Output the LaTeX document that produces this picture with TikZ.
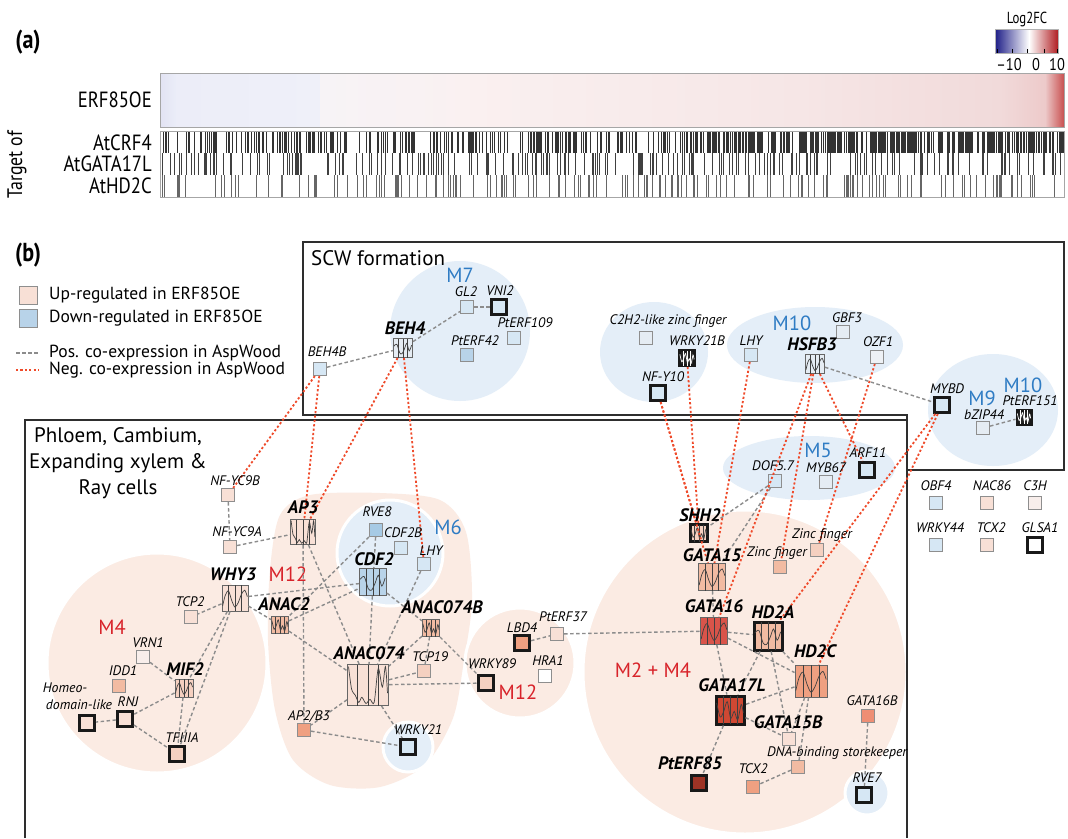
\documentclass[tikz,border=0pt]{standalone}
\usepackage{fontspec}
\setmainfont{PT Sans}
\usetikzlibrary{calc}
\definecolor{blobP}{HTML}{FBEBE3}
\definecolor{blobB}{HTML}{E4EEF8}
\definecolor{modB}{HTML}{2F7CC4}
\definecolor{modR}{HTML}{D8232A}
\definecolor{posc}{HTML}{8C8C8C}
\definecolor{negc}{HTML}{EF4A2A}
\definecolor{framec}{HTML}{2E2E2E}
\definecolor{nbord}{HTML}{8E8E8E}
\definecolor{b1}{HTML}{D6E7F4}
\definecolor{b2}{HTML}{B8D3E9}
\definecolor{b3}{HTML}{A6CAE5}
\definecolor{g1}{HTML}{E5ECF3}
\definecolor{g2}{HTML}{EEF1F5}
\definecolor{p0}{HTML}{F8EEEB}
\definecolor{p1}{HTML}{F8E0D6}
\definecolor{p2}{HTML}{F5D0C0}
\definecolor{p3}{HTML}{F2BBA2}
\definecolor{p4}{HTML}{EFA081}
\definecolor{p5}{HTML}{EE8E74}
\definecolor{r1}{HTML}{D9544A}
\definecolor{r2}{HTML}{CF4833}
\definecolor{r3}{HTML}{9E3325}
\newcommand\curveA{\draw[chcurve] plot[smooth] coordinates {(-0.95,0.6) (-0.75,-0.2) (-0.5,-0.55) (-0.25,0.2) (0,0.7) (0.25,0.35) (0.5,-0.3) (0.75,-0.6) (0.95,-0.1)};}
\newcommand\curveB{\draw[chcurve] plot[smooth] coordinates {(-0.95,-0.5) (-0.7,0.5) (-0.45,0.1) (-0.2,-0.6) (0.05,0.6) (0.3,0.1) (0.55,0.7) (0.8,-0.4) (0.95,0.2)};}
\newcommand\curveC{\draw[chcurve] plot[smooth] coordinates {(-0.95,-0.2) (-0.65,-0.4) (-0.35,0.5) (-0.1,0.6) (0.15,0.1) (0.4,-0.5) (0.65,0.3) (0.9,-0.3)};}
\newcommand\curveD{\draw[chcurve] plot[smooth] coordinates {(-0.95,-0.9) (-0.8,0.2) (-0.62,0.5) (-0.45,0.85) (-0.3,0.6) (-0.1,0.9) (0.1,0.7) (0.3,0.85) (0.5,-0.8) (0.7,0.1) (0.85,-0.9) (0.95,0.4)};}
\newcommand{\chartnode}[7]{%
  \node[#5,minimum size=#4pt] (#1) at (#2,#3) {};
  \begin{scope}[shift={(#2,#3)},scale=#4/2,chcurve/.style={draw=#7,line width=0.7pt},chgrid/.style={draw=#7,line width=0.8pt}]
    \clip (-1,-1) rectangle (1,1);
    \foreach \f in {-0.5,0,0.5} \draw[chgrid] (\f,-1) -- (\f,1);
    #6
  \end{scope}}
\begin{document}
\begin{tikzpicture}[x=1pt,y=-1pt,
  sn/.style={rectangle,draw=nbord,line width=1.1pt,minimum size=13pt,inner sep=0pt},
  tn/.style={rectangle,draw=black!90,line width=3pt,minimum size=15pt,inner sep=0pt},
  chartbox/.style={rectangle,draw=black!60,line width=1pt,inner sep=0pt},
  chartthick/.style={rectangle,draw=black!90,line width=3pt,inner sep=0pt},
  lab/.style={font=\fontsize{13.8}{14}\selectfont\itshape,inner sep=0pt},
  blab/.style={font=\fontsize{18}{19}\selectfont\bfseries\itshape,inner sep=0pt},
  modb/.style={font=\fontsize{20.5}{21}\selectfont,text=modB,inner sep=0pt},
  modr/.style={font=\fontsize{20.5}{21}\selectfont,text=modR,inner sep=0pt},
  legt/.style={anchor=west,inner sep=0pt,font=\fontsize{17.5}{18}\selectfont},
  rowt/.style={anchor=east,inner sep=0pt,font=\fontsize{22}{23}\selectfont},
  posedge/.style={draw=posc,line width=1.4pt,dash pattern=on 3.5pt off 2.5pt},
  negedge/.style={draw=negc,line width=1.8pt,dash pattern=on 2.2pt off 2.2pt},
  frm/.style={draw=framec,line width=1.6pt},
  whitering/.style={draw=white,line width=3pt}]
\useasboundingbox (0,0) rectangle (1068,838);
\fill[white] (0,0) rectangle (1068,838);

% ---------------- panel (a)
\node[inner sep=0pt,font=\fontsize{26}{28}\selectfont\bfseries] (pa) at (28,42) {\scalebox{0.85}[1]{(a)}};
\shade[left color={rgb,255:red,226;green,227;blue,243},right color={rgb,255:red,235;green,237;blue,248}] (160,73) rectangle (176,127);
\shade[left color={rgb,255:red,236;green,237;blue,248},right color={rgb,255:red,239;green,240;blue,249}] (176,73) rectangle (320,127);
\shade[left color={rgb,255:red,247;green,243;blue,246},right color={rgb,255:red,250;green,241;blue,241}] (320,73) rectangle (470,127);
\shade[left color={rgb,255:red,250;green,240;blue,240},right color={rgb,255:red,246;green,230;blue,230}] (470,73) rectangle (800,127);
\shade[left color={rgb,255:red,246;green,230;blue,230},right color={rgb,255:red,241;green,218;blue,218}] (800,73) rectangle (1000,127);
\shade[left color={rgb,255:red,241;green,218;blue,218},right color={rgb,255:red,237;green,202;blue,202}] (1000,73) rectangle (1045,127);
\shade[left color={rgb,255:red,237;green,202;blue,202},right color={rgb,255:red,200;green,80;blue,80}] (1045,73) rectangle (1064,127);
\draw[gray!70,line width=1pt] (160,73) rectangle (1064,127);
\pgfmathsetseed{7}
\foreach \i in {1,...,380}{\pgfmathsetmacro\xx{160+904*rnd}\pgfmathsetmacro\ww{0.3+0.9*rnd}\draw[line width=\ww pt,black!80] (\xx,132)--(\xx,153);}
\foreach \i in {1,...,260}{\pgfmathsetmacro\xx{690+374*rnd}\pgfmathsetmacro\ww{0.3+0.9*rnd}\draw[line width=\ww pt,black!80] (\xx,132)--(\xx,153);}
\foreach \i in {1,...,230}{\pgfmathsetmacro\xx{160+904*rnd}\pgfmathsetmacro\ww{0.3+0.8*rnd}\draw[line width=\ww pt,black!75] (\xx,153)--(\xx,175);}
\foreach \i in {1,...,170}{\pgfmathsetmacro\xx{160+904*rnd}\pgfmathsetmacro\ww{0.3+0.7*rnd}\draw[line width=\ww pt,black!60] (\xx,175)--(\xx,197);}
\draw[gray!70,line width=1pt] (160,131) rectangle (1064,197);
\node[rowt] (tERF) at (152,100) {\scalebox{0.85}[1]{ERF85OE}};
\node[rowt] (tCRF) at (152,143) {\scalebox{0.85}[1]{AtCRF4}};
\node[rowt] (tGATA) at (152,164) {\scalebox{0.85}[1]{AtGATA17L}};
\node[rowt] (tHD) at (152,186) {\scalebox{0.85}[1]{AtHD2C}};
\node[rotate=90,inner sep=0pt,font=\fontsize{21}{22}\selectfont] (tTarget) at (17,165) {\scalebox{0.85}[1]{Target of}};
% colour bar
\shade[left color={rgb,255:red,30;green,30;blue,135},right color=white] (995,29) rectangle (1029,53);
\shade[left color=white,right color={rgb,255:red,176;green,30;blue,34}] (1029,29) rectangle (1058,53);
\draw[gray!60,line width=0.6pt] (995,29) rectangle (1058,53);
\foreach \t in {997,1012,1027,1044,1057} \draw[black,line width=0.8pt] (\t,53)--(\t,49);
\node[inner sep=0pt,font=\fontsize{16}{17}\selectfont] (tLog) at (1027,19) {\scalebox{0.8}[1]{Log2FC}};
\node[inner sep=0pt,font=\fontsize{17}{18}\selectfont] (tm10) at (1009,65) {\scalebox{0.85}[1]{–10}};
\node[inner sep=0pt,font=\fontsize{17}{18}\selectfont] (t0) at (1036,65) {\scalebox{0.85}[1]{0}};
\node[inner sep=0pt,font=\fontsize{17}{18}\selectfont] (t10) at (1057,65) {\scalebox{0.85}[1]{10}};

% ---------------- panel (b): blobs
\fill[blobB] (460,331) circle (70);
\fill[blobB] (654,352) ellipse (54 and 50);
\fill[blobB] (815,345) ellipse (88 and 38);
\fill[blobB] (993,410) ellipse (65 and 56);
\fill[blobB] (809,468) ellipse (86 and 32);
\fill[blobP] plot[smooth cycle] coordinates {(280,515) (310,495) (380,493) (440,500) (466,532) (472,600) (464,660) (453,718) (425,765) (380,787) (330,785) (293,760) (275,710) (268,640) (270,570)};
\filldraw[fill=blobP,whitering] (157,663) circle (110);
\filldraw[fill=blobB,whitering] (390,553) circle (53);
\filldraw[fill=blobB,whitering] (408,747) circle (25);
\filldraw[fill=blobP,whitering] (520,663) circle (55);
\filldraw[fill=blobP,whitering] (745,672) circle (162);
\filldraw[fill=blobB,whitering] (867,793) circle (22);

% frames
\draw[frm] (303,242) -- (1064,242) -- (1064,470) -- (907,470) -- (907,415) -- (303,415) -- cycle;
\draw[frm] (25,838) -- (25,420) -- (907,420) -- (907,838);

% titles and legend
\node[inner sep=0pt,font=\fontsize{26}{28}\selectfont\bfseries] (pb) at (28,255) {\scalebox{0.85}[1]{(b)}};
\node[rectangle,draw=nbord,line width=1pt,fill=p1,minimum size=18pt] (legUp) at (28,295) {};
\node[rectangle,draw=nbord,line width=1pt,fill=b2,minimum size=18pt] (legDown) at (28,318) {};
\coordinate (lp1) at (16,353); \coordinate (lp2) at (39,353);
\coordinate (ln1) at (16,370); \coordinate (ln2) at (39,370);
\draw[posedge] (lp1) -- (lp2);
\draw[negedge] (ln1) -- (ln2);
\node[legt] (legUpT) at (49,295) {Up-regulated in ERF85OE};
\node[legt] (legDownT) at (49,318) {Down-regulated in ERF85OE};
\node[legt] (legPosT) at (49,353) {Pos. co-expression in AspWood};
\node[legt] (legNegT) at (49,370) {Neg. co-expression in AspWood};
\node[anchor=west,inner sep=0pt,font=\fontsize{21}{22}\selectfont] (tSCW) at (311,258) {SCW formation};
\node[align=center,inner sep=0pt,font=\fontsize{21}{26}\selectfont] (tPhl) at (118,463) {Phloem, Cambium,\\Expanding xylem \&\\Ray cells};

% module labels
\node[modb] (mM7) at (460,275) {M7};
\node[modb] (mM10a) at (792,323) {M10};
\node[modb] (mM9) at (982,398) {M9};
\node[modb] (mM10b) at (1023,385) {M10};
\node[modb] (mM5) at (818,450) {M5};
\node[modb] (mM6) at (448,527) {M6};
\node[modr] (mM12a) at (288,574) {M12};
\node[modr] (mM4) at (112,627) {M4};
\node[modr] (mM12b) at (518,692) {M12};
\node[modr] (mM24) at (653,670) {M2 + M4};

% ---------------- nodes
% SCW
\node[sn,fill=b1] (nGL2) at (467,307) {};
\node[tn,fill=b1] (nVNI2) at (499,307) {};
\node[sn,fill=b1] (nPtERF109) at (514,338) {};
\node[sn,fill=b2] (nPtERF42) at (467,355) {};
\node[sn,fill=b1] (nBEH4B) at (320,369) {};
\chartnode{nBEH4}{403}{348}{19}{chartbox,fill=g1}{\curveC}{black!75}
\node[sn,fill=g1] (nC2H2) at (646,338) {};
\chartnode{nWRKY21B}{687}{358}{15}{chartthick,fill=black!85}{\curveB}{white}
\node[tn,fill=b1] (nNFY10) at (658,393) {};
\node[sn,fill=b1] (nLHYa) at (751,355) {};
\chartnode{nHSFB3}{815}{364}{19}{chartbox,fill=g1}{\curveA}{black!75}
\node[sn,fill=g1] (nGBF3) at (843,332) {};
\node[sn,fill=g2] (nOZF1) at (877,357) {};
\node[tn,fill=b1] (nMYBD) at (942,405) {};
\node[sn,fill=g1] (nbZIP44) at (983,428) {};
\chartnode{nPtERF151}{1024}{417}{14}{chartthick,fill=black!85}{\curveB}{white}
\node[sn,fill=b1] (nDOF) at (775,481) {};
\node[sn,fill=g1] (nMYB67) at (826,482) {};
\node[tn,fill=b1] (nARF11) at (867,470) {};
% isolated
\node[sn,fill=b1] (nOBF4) at (936,503) {};
\node[sn,fill=p1] (nNAC86) at (987,503) {};
\node[sn,fill=p0] (nC3H) at (1035,503) {};
\node[sn,fill=b1] (nWRKY44) at (936,545) {};
\node[sn,fill=p1] (nTCX2b) at (987,545) {};
\node[tn,fill=white] (nGLSA1) at (1035,545) {};
% left
\node[sn,fill=p1] (nNFYC9B) at (228,495) {};
\node[sn,fill=p1] (nNFYC9A) at (230,547) {};
\chartnode{nAP3}{303}{532}{25}{chartbox,fill=p1}{\curveD}{black!75}
\node[sn,fill=b3] (nRVE8) at (376,530) {};
\node[sn,fill=b1] (nCDF2B) at (401,548) {};
\node[sn,fill=b1] (nLHYb) at (424,564) {};
\chartnode{nCDF2}{373}{582}{27}{chartbox,fill=b2}{\curveC}{black!75}
\chartnode{nWHY3}{235}{598}{26}{chartbox,fill=p1}{\curveA}{black!75}
\node[sn,fill=p1] (nTCP2) at (191,617) {};
\chartnode{nANAC2}{280}{625}{17}{chartbox,fill=p3}{\curveB}{black!75}
\chartnode{nANAC074B}{431}{628}{17}{chartbox,fill=p3}{\curveB}{black!75}
\chartnode{nANAC074}{368}{685}{41}{chartbox,fill=p1}{\curveD}{black!75}
\node[sn,fill=p2] (nTCP19) at (424,671) {};
\node[tn,fill=p2] (nWRKY89) at (486,683) {};
\node[tn,fill=p4] (nLBD4) at (522,643) {};
\node[sn,fill=white] (nHRA1) at (545,676) {};
\node[sn,fill=p1] (nPtERF37) at (557,634) {};
\node[sn,fill=p4] (nAP2B3) at (304,730) {};
\node[tn,fill=b1] (nWRKY21) at (408,747) {};
\node[sn,fill=p0] (nVRN1) at (143,657) {};
\node[sn,fill=p3] (nIDD1) at (119,686) {};
\chartnode{nMIF2}{184}{688}{18}{chartbox,fill=p2}{\curveA}{black!75}
\node[tn,fill=p1] (nRNJ) at (125,719) {};
\node[tn,fill=p1] (nHomeo) at (87,723) {};
\node[tn,fill=p2] (nTFIIIA) at (177,754) {};
% right
\chartnode{nSHH2}{699}{533}{17}{chartthick,fill=p2}{\curveB}{black!75}
\chartnode{nGATA15}{712}{577}{27}{chartbox,fill=p3}{\curveA}{black!75}
\node[sn,fill=p3] (nZincL) at (780,567) {};
\node[sn,fill=p2] (nZincU) at (817,550) {};
\chartnode{nGATA16}{714}{631}{27}{chartbox,fill=r1}{\curveA}{black!75}
\chartnode{nHD2A}{768}{636}{28}{chartthick,fill=p3}{\curveC}{black!75}
\chartnode{nHD2C}{811}{681}{32}{chartbox,fill=p4}{\curveA}{black!75}
\chartnode{nGATA17L}{730}{710}{28}{chartthick,fill=r2}{\curveB}{black!75}
\node[sn,fill=p1] (nGATA15B) at (789,739) {};
\node[sn,fill=p3] (nDNA) at (798,767) {};
\node[sn,fill=p4] (nTCX2a) at (753,787) {};
\node[tn,fill=r3] (nPtERF85) at (699,783) {};
\node[sn,fill=p5] (nGATA16B) at (868,716) {};
\node[tn,fill=b1] (nRVE7) at (864,795) {};

% ---------------- positive edges
\draw[posedge] (nBEH4B) -- (nBEH4);
\draw[posedge] (nBEH4) -- (nGL2);
\draw[posedge] (nGL2) -- (nVNI2);
\draw[posedge] (nHSFB3) -- (nMYBD);
\draw[posedge] (nbZIP44) -- (nPtERF151);
\draw[posedge] (nNFYC9B) -- (nNFYC9A);
\draw[posedge] (nNFYC9A) -- (nAP3);
\draw[posedge] (nWHY3) -- (nTCP2);
\draw[posedge] (nWHY3) -- (nANAC2);
\draw[posedge] (nWHY3) -- (nCDF2);
\draw[posedge] (nWHY3) -- (nMIF2);
\draw[posedge] (nWHY3) -- (nTFIIIA);
\draw[posedge] (nVRN1) -- (nMIF2);
\draw[posedge] (nMIF2) -- (nRNJ);
\draw[posedge] (nMIF2) -- (nTFIIIA);
\draw[posedge] (nRNJ) -- (nHomeo);
\draw[posedge] (nRNJ) -- (nTFIIIA);
\draw[posedge] (nAP3) -- (nANAC074);
\draw[posedge] (nAP3) -- (nAP2B3);
\draw[posedge] (nANAC2) -- (nCDF2);
\draw[posedge] (nANAC2) -- (nANAC074);
\draw[posedge] (nRVE8) -- (nANAC2);
\draw[posedge] (nRVE8) -- (nCDF2);
\draw[posedge] (nCDF2) -- (nANAC074);
\draw[posedge] (nCDF2) -- (nANAC074B);
\draw[posedge] (nLHYb) -- (nANAC074);
\draw[posedge] (nANAC074B) -- (nANAC074);
\draw[posedge] (nANAC074B) -- (nTCP19);
\draw[posedge] (nANAC074B) -- (nWRKY89);
\draw[posedge] (nANAC074) -- (nTCP19);
\draw[posedge] (nANAC074) -- (nWRKY89);
\draw[posedge] (nANAC074) -- (nAP2B3);
\draw[posedge] (nANAC074) -- (nWRKY21);
\draw[posedge] (nAP2B3) -- (nWRKY21);
\draw[posedge] (nLBD4) -- (nPtERF37);
\draw[posedge] (nPtERF37) -- (nGATA16);
\draw[posedge] (nDOF) -- (nSHH2);
\draw[posedge] (nDOF) -- (nGATA15);
\draw[posedge] (nGATA15) -- (nGATA16);
\draw[posedge] (nGATA16) -- (nHD2A);
\draw[posedge] (nGATA16) -- (nGATA17L);
\draw[posedge] (nGATA16) -- (nHD2C);
\draw[posedge] (nHD2A) -- (nGATA17L);
\draw[posedge] (nHD2A) -- (nGATA15B);
\draw[posedge] (nHD2A) -- (nHD2C);
\draw[posedge] (nHD2C) -- (nGATA17L);
\draw[posedge] (nHD2C) -- (nGATA15B);
\draw[posedge] (nHD2C) -- (nDNA);
\draw[posedge] (nGATA17L) -- (nGATA15B);
\draw[posedge] (nGATA17L) -- (nPtERF85);
\draw[posedge] (nDNA) -- (nTCX2a);
\draw[posedge] (nGATA16B) -- (nRVE7);

% ---------------- negative edges
\draw[negedge] (nBEH4B) -- (nNFYC9B);
\draw[negedge] (nBEH4B) -- (nAP3);
\draw[negedge] (nBEH4) -- (nAP3);
\draw[negedge] (nBEH4) -- (nLHYb);
\draw[negedge] (nNFY10) -- (nSHH2);
\draw[negedge] (nNFY10) -- (nGATA15);
\draw[negedge] (nWRKY21B) -- (nSHH2);
\draw[negedge] (nLHYa) -- (nGATA15);
\draw[negedge] (nHSFB3) -- (nGATA16);
\draw[negedge] (nHSFB3) -- (nZincL);
\draw[negedge] (nHSFB3) -- (nARF11);
\draw[negedge] (nOZF1) -- (nZincU);
\draw[negedge] (nMYBD) -- (nHD2A);
\draw[negedge] (nMYBD) -- (nHD2C);

% ---------------- labels
\node[lab] (lGL2) at (466,292) {GL2};
\node[lab] (lVNI2) at (500,291) {VNI2};
\node[lab] (lPtERF109) at (525,323) {PtERF109};
\node[lab] (lPtERF42) at (475,341) {PtERF42};
\node[blab] (lBEH4) at (405,328) {BEH4};
\node[lab] (lBEH4B) at (327,352) {BEH4B};
\node[lab] (lC2H2) at (668,321) {C2H2-like zinc finger};
\node[lab] (lWRKY21B) at (697,341) {WRKY21B};
\node[lab] (lNFY10) at (663,377) {NF-Y10};
\node[lab] (lLHYa) at (751,341) {LHY};
\node[blab] (lHSFB3) at (812,344) {HSFB3};
\node[lab] (lGBF3) at (847,318) {GBF3};
\node[lab] (lOZF1) at (878,342) {OZF1};
\node[lab] (lMYBD) at (947,389) {MYBD};
\node[lab] (lbZIP44) at (984,415) {bZIP44};
\node[lab] (lPtERF151) at (1030,401) {PtERF151};
\node[lab] (lDOF) at (773,466) {DOF5.7};
\node[lab] (lMYB67) at (826,468) {MYB67};
\node[lab] (lARF11) at (868,453) {ARF11};
\node[lab] (lOBF4) at (936,486) {OBF4};
\node[lab] (lNAC86) at (992,486) {NAC86};
\node[lab] (lC3H) at (1035,486) {C3H};
\node[lab] (lWRKY44) at (940,528) {WRKY44};
\node[lab] (lTCX2b) at (991,528) {TCX2};
\node[lab] (lGLSA1) at (1040,528) {GLSA1};
\node[lab] (lNFYC9B) at (235,481) {NF-YC9B};
\node[lab] (lNFYC9A) at (237,532) {NF-YC9A};
\node[blab] (lWHY3) at (233,574) {WHY3};
\node[lab] (lTCP2) at (190,602) {TCP2};
\node[blab] (lANAC2) at (284,604) {ANAC2};
\node[blab] (lAP3) at (303,507) {AP3};
\node[lab] (lRVE8) at (377,512) {RVE8};
\node[lab] (lCDF2B) at (403,533) {CDF2B};
\node[lab] (lLHYb) at (431,551) {LHY};
\node[blab] (lCDF2) at (374,559) {CDF2};
\node[blab] (lANAC074B) at (442,607) {ANAC074B};
\node[blab] (lANAC074) at (369,653) {ANAC074};
\node[lab] (lTCP19) at (430,657) {TCP19};
\node[lab] (lWRKY89) at (492,664) {WRKY89};
\node[lab] (lLBD4) at (522,628) {LBD4};
\node[lab] (lHRA1) at (548,661) {HRA1};
\node[lab] (lPtERF37) at (563,617) {PtERF37};
\node[lab] (lAP2B3) at (309,717) {AP2/B3};
\node[lab] (lWRKY21) at (418,730) {WRKY21};
\node[lab] (lVRN1) at (148,643) {VRN1};
\node[lab] (lIDD1) at (123,671) {IDD1};
\node[blab] (lMIF2) at (185,669) {MIF2};
\node[lab] (lRNJ) at (128,702) {RNJ};
\node[lab] (lHomeoA) at (65,688) {Homeo-};
\node[lab] (lHomeoB) at (79,705) {domain-like};
\node[lab] (lTFIIIA) at (182,738) {TFIIIA};
\node[blab] (lSHH2) at (700,515) {SHH2};
\node[blab] (lGATA15) at (712,555) {GATA15};
\node[lab] (lZincL) at (777,553) {Zinc finger};
\node[lab] (lZincU) at (822,535) {Zinc finger};
\node[blab] (lGATA16) at (714,606) {GATA16};
\node[blab] (lHD2A) at (773,612) {HD2A};
\node[blab] (lHD2C) at (815,651) {HD2C};
\node[blab] (lGATA17L) at (732,685) {GATA17L};
\node[blab] (lGATA15B) at (788,722) {GATA15B};
\node[lab] (lDNA) at (837,753) {DNA-binding storekeeper};
\node[lab] (lTCX2a) at (753,769) {TCX2};
\node[blab] (lPtERF85) at (690,763) {PtERF85};
\node[lab] (lGATA16B) at (872,701) {GATA16B};
\node[lab] (lRVE7) at (867,778) {RVE7};
\end{tikzpicture}
\end{document}
